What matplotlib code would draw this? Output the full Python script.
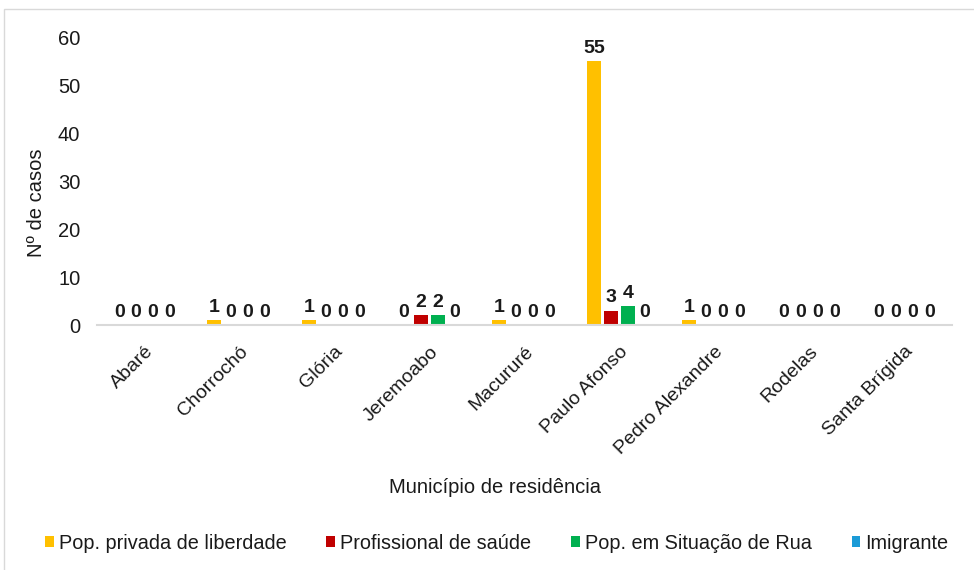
import numpy as np
import matplotlib.pyplot as plt
from matplotlib.patches import Rectangle

plt.rcParams['font.family'] = ['Liberation Sans', 'DejaVu Sans']

municipios = ['Abaré', 'Chorrochó', 'Glória', 'Jeremoabo', 'Macururé',
              'Paulo Afonso', 'Pedro Alexandre', 'Rodelas', 'Santa Brígida']
privada = [0, 1, 1, 0, 1, 55, 1, 0, 0]
profissional = [0, 0, 0, 2, 0, 3, 0, 0, 0]
situacao_rua = [0, 0, 0, 2, 0, 4, 0, 0, 0]
imigrante = [0, 0, 0, 0, 0, 0, 0, 0, 0]

series = [
    ('Pop. privada de liberdade', privada, '#FFC000'),
    ('Profissional de saúde', profissional, '#C00000'),
    ('Pop. em Situação de Rua', situacao_rua, '#00B050'),
    ('Imigrante', imigrante, '#1B9BD7'),
]

fig = plt.figure(figsize=(9.74, 5.7), dpi=100)
ax = fig.add_axes([0.0996, 0.4298, 0.8774, 0.5052])

x = np.arange(len(municipios))
width = 0.145
step = 0.178
for i, (name, vals, color) in enumerate(series):
    pos = x + (i - 1.5) * step
    bars = ax.bar(pos, vals, width, color=color, label=name)
    ax.bar_label(bars, labels=[str(v) for v in vals], padding=3,
                 fontsize=14, fontweight='bold', color='#1a1a1a')

ax.set_xlim(-0.5, len(municipios) - 0.5)
ax.set_ylim(0, 60)
ax.set_yticks(range(0, 61, 10))
ax.set_xticks(x)
ax.set_xticklabels(municipios, rotation=45, ha='right', rotation_mode='anchor',
                   fontsize=14)
ax.tick_params(axis='y', length=0, labelsize=14.5, pad=12, labelcolor='#1a1a1a')
ax.tick_params(axis='x', length=0, pad=13, labelcolor='#1a1a1a')
for s in ['top', 'right', 'left']:
    ax.spines[s].set_visible(False)
ax.spines['bottom'].set_color('#d9d9d9')
ax.spines['bottom'].set_linewidth(1.5)

ax.set_ylabel('Nº de casos', fontsize=14.5, color='#1a1a1a')
ax.yaxis.set_label_coords(-0.06, 0.424)
fig.text(0.508, 0.145, 'Município de residência', ha='center', va='center',
         fontsize=14.5, color='#1a1a1a')

handles, labels = ax.get_legend_handles_labels()
fig.legend(handles, labels, loc='center', bbox_to_anchor=(0.51, 0.047),
           ncol=4, frameon=False, fontsize=14.3, handlelength=0.45,
           handleheight=0.45, handletextpad=0.25, columnspacing=2.0,
           labelcolor='#1a1a1a')

fig.patches.append(Rectangle((0.004, -0.01), 1.1, 0.995, transform=fig.transFigure,
                             fill=False, edgecolor='#d9d9d9', linewidth=1))

fig.savefig('out.png', dpi=100)
